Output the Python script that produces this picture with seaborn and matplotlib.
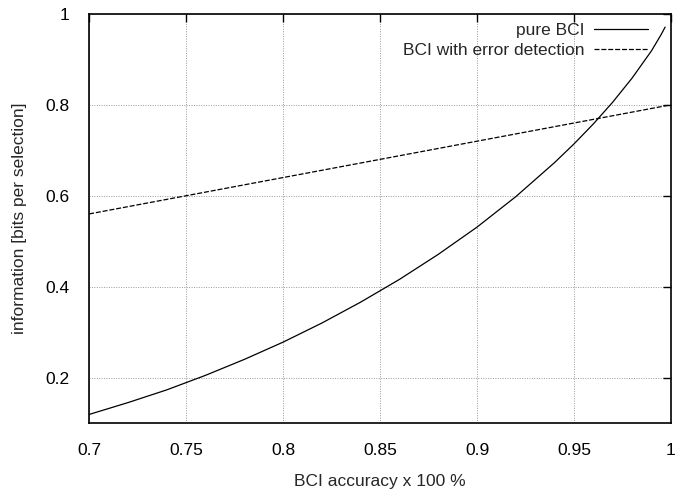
import numpy as np
import matplotlib
matplotlib.use("Agg")
import matplotlib.pyplot as plt
import seaborn as sns
import pandas as pd

# accuracy values (x) and information
accuracy = [0.70, 0.72, 0.74, 0.76, 0.78, 0.80, 0.82, 0.84, 0.86, 0.88,
            0.90, 0.92, 0.94, 0.95, 0.96, 0.97, 0.98, 0.99, 0.995, 0.997]
pure_bci = [0.119, 0.145, 0.173, 0.205, 0.240, 0.278, 0.320, 0.366, 0.416, 0.471,
            0.531, 0.598, 0.673, 0.714, 0.758, 0.806, 0.859, 0.919, 0.955, 0.971]

acc_err = [0.70, 0.75, 0.80, 0.85, 0.90, 0.95, 1.00]
err_det = [0.56, 0.60, 0.64, 0.68, 0.72, 0.76, 0.80]

x_ticks = [0.7, 0.75, 0.8, 0.85, 0.9, 0.95, 1]
x_labels = ["0.7", "0.75", "0.8", "0.85", "0.9", "0.95", "1"]
y_ticks = [0.2, 0.4, 0.6, 0.8, 1]
y_labels = ["0.2", "0.4", "0.6", "0.8", "1"]

sns.set_style("white")
plt.rcParams['font.family'] = ['Liberation Sans', 'DejaVu Sans']
fs = 12.5

fig = plt.figure(figsize=(6.75, 4.96), dpi=100)
ax = fig.add_axes([0.132, 0.147, 0.862, 0.825])

df1 = pd.DataFrame({"x": accuracy, "y": pure_bci})
df2 = pd.DataFrame({"x": acc_err, "y": err_det})
sns.lineplot(data=df1, x="x", y="y", ax=ax, color="black", linewidth=0.9,
             label="pure BCI")
sns.lineplot(data=df2, x="x", y="y", ax=ax, color="black", linewidth=0.9,
             linestyle=(0, (4, 1.5)), label="BCI with error detection")

ax.set_xlim(0.7, 1.0)
ax.set_ylim(0.1, 1.0)
ax.set_xticks(x_ticks)
ax.set_xticklabels(x_labels)
ax.set_yticks(y_ticks)
ax.set_yticklabels(y_labels)

ax.grid(True, color="#999999", linestyle=(0, (1, 1.5)), linewidth=0.7)
for s in ax.spines.values():
    s.set_color("black")
    s.set_linewidth(1.2)
ax.tick_params(direction="in", length=6, width=1, top=True, right=True,
               labelsize=fs, colors="black")
ax.tick_params(axis="x", pad=14)
ax.tick_params(axis="y", pad=14)

ax.set_xlabel("BCI accuracy x 100 %", fontsize=fs, labelpad=12)
ax.set_ylabel("information [bits per selection]", fontsize=fs, labelpad=13)

leg = ax.legend(loc="upper right", bbox_to_anchor=(0.973, 0.995),
                frameon=False, markerfirst=False,
                fontsize=fs, handlelength=3.1, borderaxespad=0.0,
                labelspacing=0.3, handletextpad=0.6)

fig.savefig("out.png", dpi=100)
